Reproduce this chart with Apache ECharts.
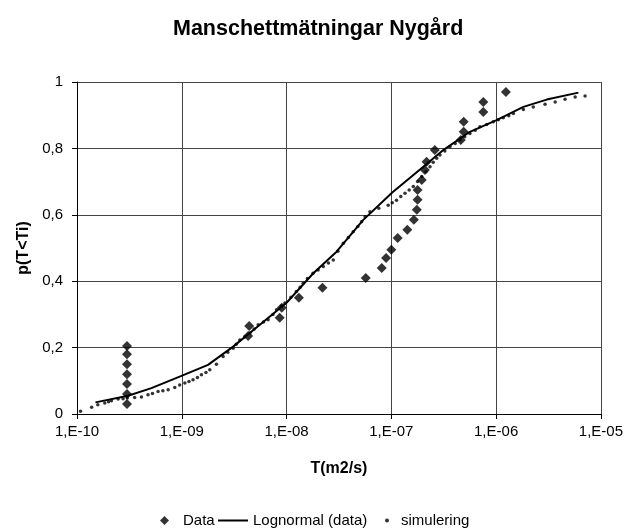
<!DOCTYPE html>
<html>
<head>
<meta charset="utf-8">
<script src="https://cdn.jsdelivr.net/npm/echarts@6/dist/echarts.min.js"></script>
<style>html,body{margin:0;padding:0;background:#fff}#c{width:626px;height:529px}</style>
</head>
<body>
<div id="c"></div>
<script>
const titleText = 'Manschettmätningar Nygård';
const xName = 'T(m2/s)';
const yName = 'p(T<Ti)';
const xTickLabels = ['1,E-10','1,E-09','1,E-08','1,E-07','1,E-06','1,E-05'];
const yTickLabels = ['0','0,2','0,4','0,6','0,8','1'];

// Data (measured)
const dataT = [3.0e-10,3.0e-10,3.0e-10,3.0e-10,3.0e-10,3.0e-10,3.0e-10,
  4.3e-9,4.4e-9,8.6e-9,9.0e-9,1.31e-8,2.2e-8,5.7e-8,8.1e-8,8.9e-8,1.0e-7,
  1.15e-7,1.42e-7,1.64e-7,1.75e-7,1.78e-7,1.78e-7,1.95e-7,2.09e-7,2.17e-7,
  2.6e-7,4.6e-7,4.9e-7,4.9e-7,7.55e-7,7.55e-7,1.24e-6];
const dataP = [0.03,0.06,0.09,0.12,0.15,0.18,0.205,
  0.235,0.265,0.29,0.32,0.35,0.38,0.41,0.44,0.47,0.495,
  0.53,0.555,0.585,0.615,0.645,0.675,0.705,0.735,0.76,
  0.795,0.825,0.85,0.88,0.91,0.94,0.97];

// Lognormal (data)
const lnT = [1.5e-10,3.07e-10,5.13e-10,9.93e-10,1.78e-9,3.09e-9,5.56e-9,1.0e-8,
  1.8e-8,3.0e-8,5.37e-8,1.02e-7,2.02e-7,3.13e-7,5.62e-7,1.01e-6,1.82e-6,3.04e-6,6.1e-6];
const lnP = [0.035,0.055,0.078,0.115,0.148,0.203,0.269,0.335,
  0.424,0.489,0.584,0.667,0.745,0.795,0.85,0.885,0.925,0.947,0.968];

// simulering
const simT = [1.08e-10,1.38e-10,1.58e-10,1.84e-10,2.0e-10,2.13e-10,2.47e-10,2.75e-10,
  3.02e-10,3.55e-10,4.12e-10,4.76e-10,5.25e-10,5.94e-10,6.6e-10,7.41e-10,8.57e-10,
  9.55e-10,1.07e-9,1.17e-9,1.28e-9,1.41e-9,1.54e-9,1.7e-9,1.85e-9,2.14e-9,2.48e-9,
  2.75e-9,3.09e-9,3.31e-9,3.58e-9,3.98e-9,4.47e-9,4.9e-9,5.36e-9,6.03e-9,6.67e-9,
  7.41e-9,8.02e-9,8.91e-9,9.64e-9,1.1e-8,1.24e-8,1.35e-8,1.44e-8,1.58e-8,1.79e-8,
  2.0e-8,2.24e-8,2.51e-8,2.79e-8,3.09e-8,3.48e-8,3.89e-8,4.33e-8,4.79e-8,5.2e-8,
  5.62e-8,6.25e-8,7.59e-8,9.33e-8,1.02e-7,1.12e-7,1.23e-7,1.35e-7,1.48e-7,1.62e-7,
  1.78e-7,1.95e-7,2.14e-7,2.34e-7,2.51e-7,2.71e-7,2.91e-7,3.24e-7,3.63e-7,4.07e-7,
  4.52e-7,5.01e-7,5.62e-7,6.31e-7,7.01e-7,8.13e-7,9.4e-7,1.05e-6,1.17e-6,1.32e-6,
  1.46e-6,1.82e-6,2.26e-6,2.93e-6,3.66e-6,4.55e-6,5.68e-6,7.06e-6];
const simP = [0.008,0.020,0.028,0.033,0.037,0.040,0.045,0.046,
  0.048,0.050,0.051,0.058,0.062,0.068,0.070,0.073,0.080,
  0.087,0.093,0.098,0.103,0.110,0.118,0.125,0.133,0.150,0.173,
  0.186,0.198,0.210,0.223,0.232,0.244,0.256,0.269,0.277,0.284,
  0.300,0.314,0.325,0.334,0.352,0.369,0.382,0.394,0.408,0.424,
  0.434,0.444,0.455,0.464,0.490,0.514,0.532,0.549,0.565,0.579,
  0.594,0.609,0.620,0.629,0.636,0.644,0.655,0.665,0.675,0.685,
  0.700,0.715,0.730,0.745,0.758,0.770,0.780,0.792,0.805,0.815,
  0.825,0.835,0.845,0.855,0.865,0.872,0.880,0.886,0.892,0.898,
  0.905,0.917,0.925,0.933,0.940,0.948,0.955,0.958];

const FONT = 'Liberation Sans';
const zip = (a, b) => a.map((v, i) => [v, b[i]]);

const chart = echarts.init(document.getElementById('c'));
chart.setOption({
  backgroundColor: '#fff',
  animation: false,
  textStyle: { fontFamily: FONT, color: '#000' },
  title: {
    text: titleText, left: 168, top: 13,
    textStyle: { fontFamily: FONT, fontSize: 21.5, fontWeight: 'bold', color: '#000' }
  },
  grid: { left: 77, right: 25, top: 82, bottom: 115 },
  xAxis: {
    type: 'log', logBase: 10, min: 1e-10, max: 1e-5,
    name: xName, nameLocation: 'middle', nameGap: 47,
    nameTextStyle: { fontFamily: FONT, fontSize: 16, fontWeight: 'bold', color: '#000' },
    axisLine: { show: true, lineStyle: { color: '#000', width: 1 } },
    axisTick: { show: true, length: 5, lineStyle: { color: '#000' } },
    minorTick: { show: false },
    axisLabel: {
      margin: 10, fontSize: 15, color: '#000', fontFamily: FONT,
      formatter: v => xTickLabels[Math.round(Math.log10(v)) + 10]
    },
    splitLine: { show: true, lineStyle: { color: '#444', width: 1 } }
  },
  yAxis: {
    type: 'value', min: 0, max: 1, interval: 0.2,
    name: yName, nameLocation: 'middle', nameGap: 40, nameRotate: 90,
    nameTextStyle: { fontFamily: FONT, fontSize: 16, fontWeight: 'bold', color: '#000' },
    axisLine: { show: true, lineStyle: { color: '#000', width: 1 } },
    axisTick: { show: true, length: 5, lineStyle: { color: '#000' } },
    axisLabel: {
      margin: 14, fontSize: 15, color: '#000', fontFamily: FONT,
      formatter: v => yTickLabels[Math.round(v * 5)]
    },
    splitLine: { show: true, lineStyle: { color: '#444', width: 1 } }
  },
  legend: [
    { data: [{ name: 'Data', icon: 'diamond' }], left: 155, top: 508, itemWidth: 9, itemHeight: 9,
      textStyle: { fontFamily: FONT, fontSize: 15, color: '#000', padding: [0, 0, 0, 9] } },
    { data: [{ name: 'Lognormal (data)', icon: 'rect' }], left: 213, top: 508, itemWidth: 30, itemHeight: 2,
      textStyle: { fontFamily: FONT, fontSize: 15, color: '#000' } },
    { data: [{ name: 'simulering', icon: 'circle' }], left: 380, top: 508, itemWidth: 4, itemHeight: 4,
      textStyle: { fontFamily: FONT, fontSize: 15, color: '#000', padding: [0, 0, 0, 7] } }
  ],
  series: [
    {
      name: 'Lognormal (data)', type: 'line', data: zip(lnT, lnP),
      symbol: 'none', showSymbol: false, smooth: false,
      lineStyle: { color: '#000', width: 2 }, itemStyle: { color: '#000' }, z: 3
    },
    {
      name: 'simulering', type: 'scatter', data: zip(simT, simP),
      symbol: 'circle', symbolSize: 3.5, itemStyle: { color: '#000' }, z: 4
    },
    {
      name: 'Data', type: 'scatter', data: zip(dataT, dataP),
      symbol: 'diamond', symbolSize: 10, itemStyle: { color: '#000' }, z: 5
    }
  ]
});
</script>
</body>
</html>
